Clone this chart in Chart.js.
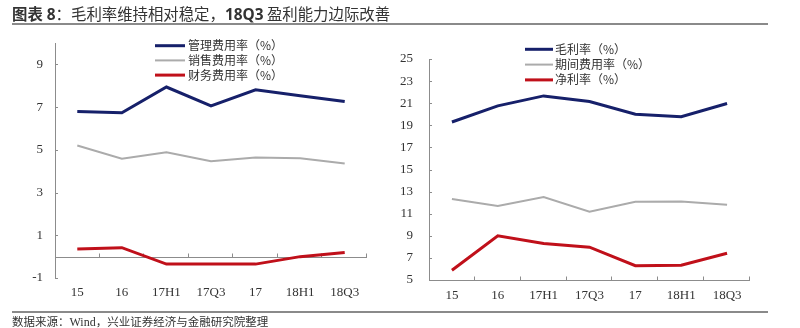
<!DOCTYPE html>
<html><head><meta charset="utf-8">
<script src="https://cdn.jsdelivr.net/npm/chart.js@4.4.0/dist/chart.umd.min.js"></script>
<style>
html,body{margin:0;padding:0;background:#fff;}
#wrap{position:relative;width:800px;height:328px;overflow:hidden;background:#fff;}
#title{position:absolute;left:12px;top:3px;font-family:"Noto Sans CJK SC","Noto Sans",sans-serif;font-size:15.4px;color:#333;white-space:nowrap;line-height:20px;z-index:2}
#title b{font-weight:bold;font-family:"Noto Sans","Noto Sans CJK SC",sans-serif}
.rule{position:absolute;left:12px;width:756px;height:2px;background:#8a8a8a;z-index:2}
#src{position:absolute;left:12px;top:314px;font-family:"Noto Sans CJK SC",sans-serif;font-size:11.5px;color:#333;white-space:nowrap;line-height:14px;z-index:2}
#src span{font-family:"Liberation Serif",serif;font-size:12px}
canvas{position:absolute;top:0}
</style></head>
<body>
<div id="wrap">
<div id="title"><b>图表 8</b>：毛利率维持相对稳定，<b>18Q3</b> 盈利能力边际改善</div>
<div class="rule" style="top:23px"></div>
<canvas id="c1" width="395" height="328" style="left:0"></canvas>
<canvas id="c2" width="405" height="328" style="left:395px"></canvas>
<div class="rule" style="top:311px"></div>
<div id="src">数据来源：<span>Wind</span>，兴业证券经济与金融研究院整理</div>
</div>
<script>
const categories = ['15','16','17H1','17Q3','17','18H1','18Q3'];

const mgmtRate = [6.79, 6.73, 7.94, 7.06, 7.81, 7.53, 7.26];
const salesRate = [5.20, 4.58, 4.89, 4.47, 4.64, 4.61, 4.36];
const finRate = [0.36, 0.42, -0.35, -0.35, -0.35, 0.00, 0.19];
const leftTicks = [-1, 1, 3, 5, 7, 9];

const grossMargin = [19.30, 20.76, 21.66, 21.15, 20.00, 19.78, 20.97];
const periodExpRate = [12.33, 11.70, 12.50, 11.18, 12.09, 12.10, 11.81];
const netMargin = [5.88, 9.00, 8.30, 7.97, 6.30, 6.33, 7.42];
const rightTicks = [5, 7, 9, 11, 13, 15, 17, 19, 21, 23, 25];

const NAVY = '#16206a', GRAY = '#ababab', RED = '#c0101a', AXIS = '#8c8c8c';

const lineLegend = {
  id: 'lineLegend',
  afterDraw(chart, args, o) {
    const ctx = chart.ctx; ctx.save();
    chart.data.datasets.forEach((ds, i) => {
      const y = o.y + i * o.spacing;
      ctx.strokeStyle = ds.borderColor; ctx.lineWidth = ds.borderWidth;
      ctx.beginPath(); ctx.moveTo(o.x, y); ctx.lineTo(o.x + o.len, y); ctx.stroke();
      ctx.fillStyle = '#333'; ctx.font = o.font; ctx.textBaseline = 'middle'; ctx.textAlign = 'left';
      ctx.fillText(ds.label, o.x + o.len + o.gap, y);
    });
    ctx.restore();
  }
};

const axisMarks = {
  id: 'axisMarks',
  beforeDatasetsDraw(chart, args, o) {
    const {ctx, chartArea: a, scales: {x, y}} = chart;
    ctx.save(); ctx.strokeStyle = AXIS; ctx.lineWidth = 1;
    const y0 = Math.round(y.getPixelForValue(o.base)) + 0.5;
    ctx.beginPath();
    ctx.moveTo(a.left, y0); ctx.lineTo(a.right, y0);
    const n = x.ticks.length;
    for (let i = 0; i < n; i++) {
      const px = Math.round(i < n - 1 ? (x.getPixelForValue(i) + x.getPixelForValue(i + 1)) / 2 : a.right) - 0.5;
      ctx.moveTo(px, y0); ctx.lineTo(px, y0 - o.tick);
    }
    y.ticks.forEach(t => {
      const py = Math.round(y.getPixelForValue(t.value)) + 0.5;
      ctx.moveTo(a.left, py); ctx.lineTo(a.left + 3, py);
    });
    ctx.stroke(); ctx.restore();
  }
};

function makeChart(id, sets, yMin, yMax, ticksArr, pad, yWidth, yPad, xPad, base, legend) {
  return new Chart(document.getElementById(id), {
    type: 'line',
    data: {
      labels: categories,
      datasets: sets.map(s => ({
        label: s.label, data: s.data, borderColor: s.color, backgroundColor: s.color,
        borderWidth: s.width, pointRadius: 0, tension: 0, fill: false
      }))
    },
    options: {
      responsive: false, animation: false,
      layout: {padding: pad},
      plugins: {legend: {display: false}, tooltip: {enabled: false}, lineLegend: legend, axisMarks: {base: base, tick: 4}},
      scales: {
        x: {
          type: 'category', offset: true,
          grid: {display: false, drawTicks: false},
          border: {display: false},
          ticks: {font: {family: 'Liberation Serif', size: 13}, color: '#333', padding: xPad, maxRotation: 0, autoSkip: false},
          afterFit(s) { s.height = 30; }
        },
        y: {
          min: yMin, max: yMax,
          grid: {display: false, drawTicks: false},
          border: {display: true, color: AXIS, width: 1},
          afterBuildTicks(s) { s.ticks = ticksArr.map(v => ({value: v})); },
          ticks: {font: {family: 'Liberation Serif', size: 13}, color: '#333', padding: yPad},
          afterFit(s) { s.width = yWidth; }
        }
      }
    },
    plugins: [axisMarks, lineLegend]
  });
}

makeChart('c1', [
  {label: '管理费用率（%）', data: mgmtRate, color: NAVY, width: 3},
  {label: '销售费用率（%）', data: salesRate, color: GRAY, width: 2},
  {label: '财务费用率（%）', data: finRate, color: RED, width: 3}
], -1, 10, leftTicks, {left: 0, right: 28, top: 43, bottom: 20}, 55, 12, 7, 0,
  {x: 155, y: 45.7, spacing: 14.7, len: 30, gap: 3, font: '12px "Noto Sans CJK SC"'});

makeChart('c2', [
  {label: '毛利率（%）', data: grossMargin, color: NAVY, width: 3},
  {label: '期间费用率（%）', data: periodExpRate, color: GRAY, width: 2},
  {label: '净利率（%）', data: netMargin, color: RED, width: 3}
], 5, 25, rightTicks, {left: 0, right: 50, top: 59, bottom: 18}, 34, 16, 8, 5,
  {x: 130, y: 49.3, spacing: 15.3, len: 28, gap: 2, font: '12px "Noto Sans CJK SC"'});
</script>
</body></html>
